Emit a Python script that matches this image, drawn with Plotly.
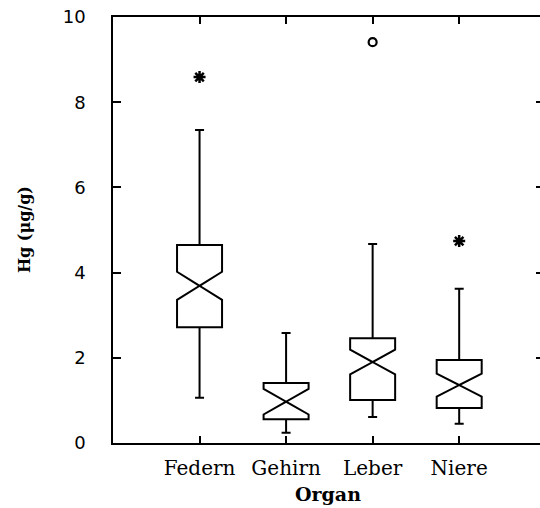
import plotly.graph_objects as go

organs = ["Federn", "Gehirn", "Leber", "Niere"]
q1 = [2.72, 0.56, 1.01, 0.82]
median = [3.69, 0.97, 1.90, 1.36]
q3 = [4.65, 1.41, 2.46, 1.95]
lower_whisker = [1.06, 0.24, 0.61, 0.45]
upper_whisker = [7.35, 2.58, 4.67, 3.62]
notch_half = [0.33, 0.30, 0.29, 0.27]

star_organs = ["Federn", "Niere"]
star_values = [8.59, 4.74]
circle_organs = ["Leber"]
circle_values = [9.41]

fig = go.Figure()
fig.add_trace(go.Box(
    x=organs, q1=q1, median=median, q3=q3,
    lowerfence=lower_whisker, upperfence=upper_whisker,
    notchspan=notch_half, notched=True, notchwidth=0.5,
    width=0.52, whiskerwidth=0.2,
    fillcolor="rgba(0,0,0,0)",
    line=dict(color="black", width=2),
    boxpoints=False, showlegend=False, hoverinfo="skip",
))
fig.add_trace(go.Scatter(
    x=star_organs, y=star_values, mode="markers",
    marker=dict(symbol="asterisk-open", size=10, color="black",
                line=dict(color="black", width=2.5)),
    showlegend=False,
))
fig.add_trace(go.Scatter(
    x=circle_organs, y=circle_values, mode="markers",
    marker=dict(symbol="circle-open", size=8, color="black",
                line=dict(color="black", width=2.2)),
    showlegend=False,
))

fig.update_layout(
    width=546, height=508,
    margin=dict(l=113, r=0, t=17, b=65),
    paper_bgcolor="white", plot_bgcolor="white",
    xaxis=dict(
        type="category", categoryorder="array", categoryarray=organs,
        range=[-1, 3.98], showgrid=False, zeroline=False,
        showline=True, linecolor="black", linewidth=1.6, mirror="ticks",
        ticks="inside", ticklen=7, tickwidth=1.5, tickcolor="black",
        tickfont=dict(family="DejaVu Serif", size=20, color="black"),
        ticklabelstandoff=6,
    ),
    yaxis=dict(
        range=[0, 10], tickvals=[0, 2, 4, 6, 8, 10],
        showgrid=False, zeroline=False,
        showline=True, linecolor="black", linewidth=1.6, mirror="ticks",
        ticks="inside", ticklen=8, tickwidth=1.5, tickcolor="black",
        tickfont=dict(family="DejaVu Sans", size=18, color="black"),
        ticklabelstandoff=22, ticklabeloverflow="allow",
    ),
    annotations=[
        dict(text="<b>Hg (μg/g)</b>", xref="paper", yref="paper",
             x=0, y=0.5, xanchor="center", yanchor="middle", xshift=-89,
             textangle=-90, showarrow=False,
             font=dict(family="DejaVu Serif", size=16, color="black")),
        dict(text="<b>Organ</b>", xref="paper", yref="paper",
             x=0, y=0, xanchor="center", yanchor="middle", xshift=215, yshift=-51,
             showarrow=False,
             font=dict(family="DejaVu Serif", size=19, color="black")),
    ],
)

fig.write_html(
    "out.html",
    config={"displayModeBar": False},
    post_script="document.body.style.margin='0';document.body.style.overflow='hidden';",
)
